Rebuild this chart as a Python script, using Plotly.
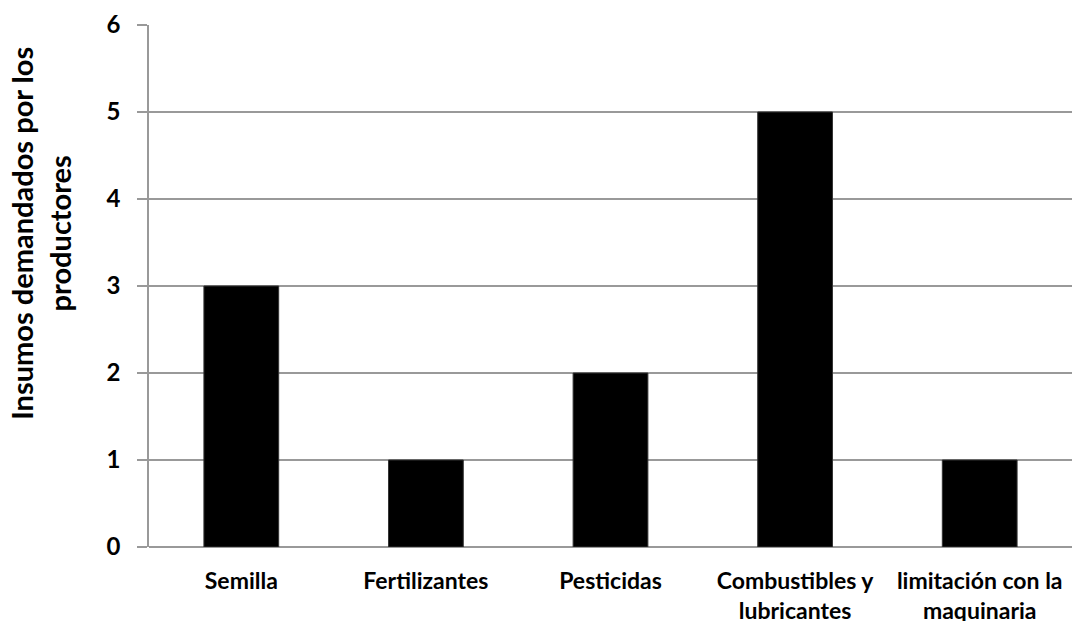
import plotly.graph_objects as go

# Insumos demandados por los productores
categorias = ["Semilla", "Fertilizantes", "Pesticidas",
              "Combustibles y<br>lubricantes", "limitación con la<br>maquinaria"]
valores = [3, 1, 2, 5, 1]
y_ticks = [0, 1, 2, 3, 4, 5, 6]
titulo_y = "Insumos demandados por los<br>productores"

fuente = "Lato, 'Open Sans', sans-serif"

fig = go.Figure(
    go.Bar(
        x=categorias,
        y=valores,
        marker=dict(color="black", line=dict(color="#333333", width=1)),
        width=0.405,
    )
)

fig.update_layout(
    width=1072,
    height=621,
    margin=dict(l=149, r=0, t=25, b=74),
    paper_bgcolor="white",
    plot_bgcolor="white",
    showlegend=False,
    font=dict(family=fuente, color="black"),
)

fig.update_xaxes(
    automargin=False,
    showgrid=False,
    showline=False,
    ticks="",
    tickfont=dict(family=fuente, size=23, color="black", weight="bold"),
    ticklabelstandoff=18,
)

fig.update_yaxes(
    automargin=False,
    range=[0, 6],
    tickvals=y_ticks,
    showgrid=True,
    gridcolor="#999999",
    gridwidth=1.5,
    zeroline=True,
    zerolinecolor="#999999",
    zerolinewidth=1.5,
    showline=True,
    linecolor="#999999",
    linewidth=1.5,
    ticks="outside",
    ticklen=10,
    tickcolor="#999999",
    tickwidth=1.5,
    tickfont=dict(family=fuente, size=24, color="black", weight="bold"),
    ticklabelstandoff=12,
)

# Vertical axis title, placed a little above the middle of the plot
fig.add_annotation(
    text=titulo_y,
    xref="paper", yref="paper",
    x=-0.117, y=0.60,
    xanchor="center", yanchor="middle",
    textangle=-90,
    showarrow=False,
    align="center",
    font=dict(family=fuente, size=29, color="black", weight="bold"),
)

fig.write_html("out.html")
